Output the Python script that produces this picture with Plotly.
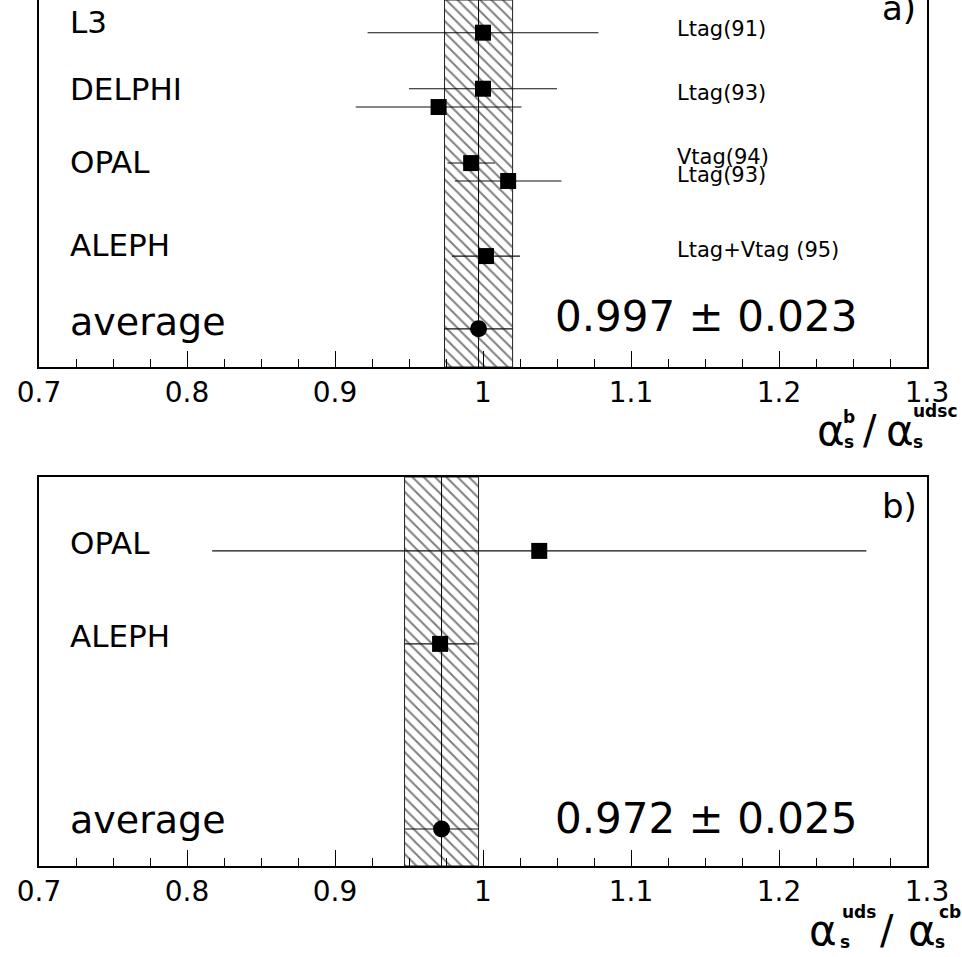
import plotly.graph_objects as go

# ---------------- data ----------------
# panel a) alpha_s^b / alpha_s^udsc
a_experiments = ["L3", "DELPHI", "DELPHI", "OPAL", "OPAL", "ALEPH"]
a_values = [1.000, 1.000, 0.970, 0.992, 1.017, 1.002]
a_errors = [0.078, 0.050, 0.056, 0.016, 0.036, 0.023]
a_tags = ["Ltag(91)", "Ltag(93)", "", "Vtag(94)", "Ltag(93)", "Ltag+Vtag (95)"]
a_average = 0.997
a_average_err = 0.023

# panel b) alpha_s^uds / alpha_s^cb
b_experiments = ["OPAL", "ALEPH"]
b_values = [1.038, 0.971]
b_errors = [0.221, 0.024]
b_average = 0.972
b_average_err = 0.025

tick_values = [0.7, 0.8, 0.9, 1.0, 1.1, 1.2, 1.3]
tick_labels = ["0.7", "0.8", "0.9", "1", "1.1", "1.2", "1.3"]

# ---------------- layout helpers (row positions in panel units) ----------------
a_rows = [8.59, 7.15, 6.68, 5.24, 4.78, 2.85]
a_avg_row = 0.98
a_name_rows = {"L3": 8.86, "DELPHI": 7.15, "OPAL": 5.26, "ALEPH": 3.14}
a_tag_rows = [8.69, 7.04, None, 5.40, 4.94, 3.01]
b_rows = [8.10, 5.71]
b_avg_row = 0.95
b_name_rows = {"OPAL": 8.30, "ALEPH": 5.91}

W, H = 962, 957
PL, PR = 39, 927
YA_MAX, YB_MAX = 9.43, 10.0
FONT = "DejaVu Sans"


def px_x(px):
    return (px - PL) / (PR - PL)


def px_y(py):
    return 1 - py / H


fig = go.Figure()


def add_panel(xref, yref, ymax, avg, avg_err, values, errors, rows, avg_row):
    lo, hi = avg - avg_err, avg + avg_err
    fig.add_trace(go.Scatter(
        x=[lo, hi, hi, lo, lo], y=[0, 0, ymax, ymax, 0],
        xaxis=xref, yaxis=yref, mode="lines", fill="toself",
        fillcolor="white",
        fillpattern=dict(shape="\\", size=8, solidity=0.25,
                         fgcolor="black", bgcolor="white"),
        line=dict(color="#222", width=1), hoverinfo="skip", showlegend=False))
    fig.add_trace(go.Scatter(
        x=[avg, avg], y=[0, ymax], xaxis=xref, yaxis=yref, mode="lines",
        line=dict(color="black", width=1), showlegend=False, hoverinfo="skip"))
    fig.add_trace(go.Scatter(
        x=values, y=rows, xaxis=xref, yaxis=yref, mode="markers",
        marker=dict(symbol="square", size=16, color="black"),
        error_x=dict(type="data", array=errors, symmetric=True, width=0,
                     thickness=1.1, color="#111"),
        showlegend=False))
    fig.add_trace(go.Scatter(
        x=[avg], y=[avg_row], xaxis=xref, yaxis=yref, mode="markers",
        marker=dict(symbol="circle", size=17, color="black"),
        error_x=dict(type="data", array=[avg_err], symmetric=True, width=0,
                     thickness=1.1, color="#111"),
        showlegend=False))


add_panel("x", "y", YA_MAX, a_average, a_average_err, a_values, a_errors, a_rows, a_avg_row)
add_panel("x2", "y2", YB_MAX, b_average, b_average_err, b_values, b_errors, b_rows, b_avg_row)

annotations = []
NAME_X = 0.7196
TAG_X = 1.1297
VAL_X = 1.151


def name(text, x, y, xr, yr, size=31):
    annotations.append(dict(text=text, x=x, y=y, xref=xr, yref=yr, xanchor="left",
                            yanchor="middle", showarrow=False,
                            font=dict(family=FONT, size=size, color="black")))


seen = set()
for e in a_experiments:
    if e not in seen:
        seen.add(e)
        name(e, NAME_X, a_name_rows[e], "x", "y")
name("average", NAME_X, a_avg_row + 0.18, "x", "y", size=38)
for e in b_experiments:
    name(e, NAME_X, b_name_rows[e], "x2", "y2")
name("average", NAME_X, b_avg_row + 0.22, "x2", "y2", size=38)

for t, r in zip(a_tags, a_tag_rows):
    if t:
        annotations.append(dict(text=t, x=TAG_X, y=r, xref="x", yref="y", xanchor="left",
                                yanchor="middle", showarrow=False,
                                font=dict(family=FONT, size=21, color="black")))

annotations.append(dict(text=f"{a_average:.3f} \u00b1 {a_average_err:.3f}", x=VAL_X, y=1.31,
                        xref="x", yref="y", xanchor="center", yanchor="middle", showarrow=False,
                        font=dict(family=FONT, size=42, color="black")))
annotations.append(dict(text=f"{b_average:.3f} \u00b1 {b_average_err:.3f}", x=VAL_X, y=1.23,
                        xref="x2", yref="y2", xanchor="center", yanchor="middle", showarrow=False,
                        font=dict(family=FONT, size=42, color="black")))

annotations.append(dict(text="a)", x=px_x(899), y=px_y(8), xref="paper", yref="paper",
                        xanchor="center", yanchor="middle", showarrow=False,
                        font=dict(family=FONT, size=34, color="black")))
annotations.append(dict(text="b)", x=px_x(899), y=px_y(506), xref="paper", yref="paper",
                        xanchor="center", yanchor="middle", showarrow=False,
                        font=dict(family=FONT, size=34, color="black")))


def ptext(text, px, py, size, anchor="center", bold=False):
    annotations.append(dict(text=f"<b>{text}</b>" if bold else text,
                            x=px_x(px), y=px_y(py), xref="paper", yref="paper",
                            xanchor=anchor, yanchor="middle", showarrow=False,
                            font=dict(family=FONT, size=size, color="black")))


# axis title a): alpha_s^b / alpha_s^udsc
ptext("\u03b1", 831, 430, 42)
ptext("b", 849, 417, 17, bold=True)
ptext("s", 849, 442, 17, bold=True)
ptext("/", 870, 430, 40)
ptext("\u03b1", 900, 430, 42)
ptext("udsc", 911, 411, 17, anchor="left", bold=True)
ptext("s", 918, 442, 17, bold=True)

# axis title b): alpha_s^uds / alpha_s^cb
ptext("\u03b1", 823, 930, 42)
ptext("uds", 840, 912, 17, anchor="left", bold=True)
ptext("s", 845, 942, 17, bold=True)
ptext("/", 887, 930, 40)
ptext("\u03b1", 922, 930, 42)
ptext("cb", 937, 912, 17, anchor="left", bold=True)
ptext("s", 940, 942, 17, bold=True)

xcommon = dict(range=[0.7, 1.3], showline=True, linecolor="black", linewidth=1.5,
               ticks="inside", ticklen=16, tickwidth=1, tickcolor="black",
               tickmode="array", tickvals=tick_values, ticktext=tick_labels,
               minor=dict(tick0=0.7, dtick=0.025, ticks="inside", ticklen=8,
                          tickwidth=1, tickcolor="black", showgrid=False),
               showgrid=False, zeroline=False, automargin=False,
               tickfont=dict(family=FONT, size=28, color="black"))
ycommon = dict(showline=True, linecolor="black", linewidth=1.5, mirror=True,
               showticklabels=False, ticks="", showgrid=False, zeroline=False,
               automargin=False)

fig.update_layout(
    width=W, height=H,
    margin=dict(l=PL, r=W - PR, t=0, b=0, autoexpand=False),
    paper_bgcolor="white", plot_bgcolor="white",
    showlegend=False,
    xaxis=dict(domain=[0, 1], anchor="y", mirror=False, **xcommon),
    yaxis=dict(domain=[1 - 367 / H, 1], anchor="x", range=[0, YA_MAX], **ycommon),
    xaxis2=dict(domain=[0, 1], anchor="y2", mirror=True, **xcommon),
    yaxis2=dict(domain=[1 - 866 / H, 1 - 477 / H], anchor="x2", range=[0, YB_MAX], **ycommon),
    annotations=annotations,
)

fig.write_html("out.html", config={"displayModeBar": False},
               post_script="document.body.style.margin='0px';document.body.style.padding='0px';")
